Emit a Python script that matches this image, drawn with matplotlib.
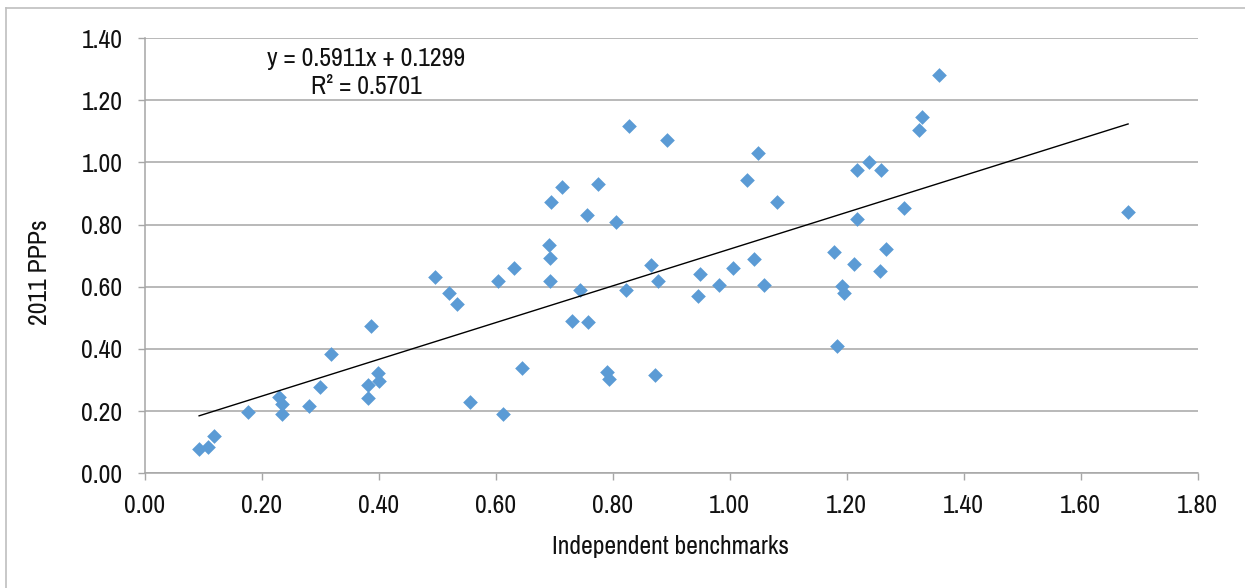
import matplotlib
matplotlib.use("Agg")
import matplotlib.pyplot as plt
from matplotlib.lines import Line2D

# Independent benchmark vs. 2011 PPP, one point per economy
benchmarks = [0.093, 0.109, 0.119, 0.176, 0.230, 0.235, 0.234, 0.280, 0.299, 0.319,
              0.381, 0.381, 0.387, 0.399, 0.401, 0.497, 0.520, 0.533, 0.556, 0.604,
              0.612, 0.631, 0.645, 0.691, 0.693, 0.693, 0.695, 0.713, 0.730, 0.744,
              0.756, 0.757, 0.775, 0.790, 0.794, 0.806, 0.822, 0.828, 0.866, 0.873,
              0.878, 0.892, 0.946, 0.949, 0.982, 1.006, 1.029, 1.042, 1.048, 1.058,
              1.080, 1.178, 1.183, 1.192, 1.195, 1.212, 1.218, 1.218, 1.238, 1.257,
              1.258, 1.268, 1.298, 1.324, 1.328, 1.358, 1.681]
ppps = [0.077, 0.086, 0.120, 0.196, 0.247, 0.222, 0.190, 0.215, 0.276, 0.384,
        0.284, 0.242, 0.475, 0.323, 0.296, 0.631, 0.581, 0.545, 0.230, 0.617,
        0.191, 0.661, 0.340, 0.734, 0.692, 0.618, 0.874, 0.921, 0.489, 0.588,
        0.831, 0.487, 0.932, 0.325, 0.303, 0.808, 0.591, 1.117, 0.669, 0.315,
        0.620, 1.071, 0.570, 0.642, 0.605, 0.661, 0.943, 0.690, 1.029, 0.607,
        0.874, 0.713, 0.408, 0.602, 0.581, 0.673, 0.976, 0.818, 1.002, 0.652,
        0.977, 0.720, 0.854, 1.104, 1.145, 1.282, 0.840]

# Linear trend reported on the chart
slope = 0.5911
intercept = 0.1299
r_squared = 0.5701

x_ticks = [0.0, 0.2, 0.4, 0.6, 0.8, 1.0, 1.2, 1.4, 1.6, 1.8]
y_ticks = [0.0, 0.2, 0.4, 0.6, 0.8, 1.0, 1.2, 1.4]

plt.rcParams["font.family"] = ["Archivo Narrow", "Liberation Sans", "DejaVu Sans"]

FS = 18.5
TXT = "#111111"
W, H = 1245, 588
fig = plt.figure(figsize=(W / 100, H / 100), dpi=100)
ax = fig.add_axes([144.7 / W, 1 - 473.3 / H, (1197.7 - 144.7) / W, (473.3 - 38) / H])

grid_c = "#A6A6A6"
ax.set_xlim(0, 1.8)
ax.set_ylim(0, 1.4)
ax.set_xticks(x_ticks)
ax.set_yticks(y_ticks)
ax.set_xticklabels([f"{v:.2f}" for v in x_ticks])
ax.set_yticklabels([f"{v:.2f}" for v in y_ticks])
ax.yaxis.grid(True, color=grid_c, linewidth=1.1)
ax.set_axisbelow(True)
for s in ["top", "right"]:
    ax.spines[s].set_visible(False)
for s in ["left", "bottom"]:
    ax.spines[s].set_color(grid_c)
    ax.spines[s].set_linewidth(1.1)
ax.tick_params(axis="both", direction="out", length=5, width=1.0, color=grid_c,
               labelsize=FS, labelcolor=TXT)
ax.tick_params(axis="y", pad=11)
ax.tick_params(axis="x", pad=10)

ax.scatter(benchmarks, ppps, marker="D", s=56, color="#5B9BD5", linewidths=0, zorder=3)

x_lo, x_hi = min(benchmarks), max(benchmarks)
ax.plot([x_lo, x_hi], [slope * x_lo + intercept, slope * x_hi + intercept],
        color="black", linewidth=1.0, zorder=4)

fig.text(366 / W, 1 - 58 / H, f"y = {slope:.4f}x + {intercept:.4f}", ha="center", va="center",
         fontsize=FS, color=TXT)
fig.text(366 / W, 1 - 87 / H, f"R² = {r_squared:.4f}", ha="center", va="center",
         fontsize=FS, color=TXT)

fig.text(40 / W, 1 - 272 / H, "2011 PPPs", rotation=90, ha="center", va="center",
         fontsize=FS, color=TXT)
fig.text(670 / W, 1 - 546 / H, "Independent benchmarks", ha="center", va="center",
         fontsize=FS, color=TXT)

# chart-area frame (top and left edges visible)
frame_c = "#BFBFBF"
fig.add_artist(Line2D([6 / W, 1], [1 - 8 / H, 1 - 8 / H], transform=fig.transFigure,
                      color=frame_c, linewidth=1.2))
fig.add_artist(Line2D([6 / W, 6 / W], [0, 1 - 8 / H], transform=fig.transFigure,
                      color=frame_c, linewidth=1.2))

fig.savefig("out.png", dpi=100, facecolor="white")
